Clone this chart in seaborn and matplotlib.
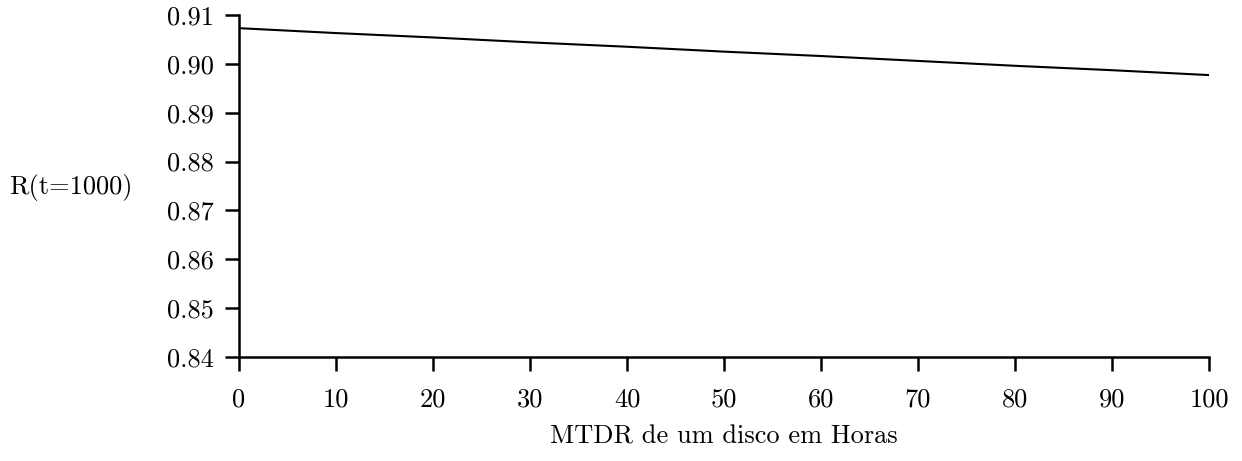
import matplotlib
matplotlib.use("Agg")
import matplotlib.pyplot as plt
import seaborn as sns
import pandas as pd

mtdr = [0, 10, 20, 30, 40, 50, 60, 70, 80, 90, 100]
reliability = [0.9073, 0.9063, 0.9054, 0.9044, 0.9035, 0.9025, 0.9016, 0.9006, 0.8996, 0.8987, 0.8977]
xticks = [0, 10, 20, 30, 40, 50, 60, 70, 80, 90, 100]
yticks = [0.84, 0.85, 0.86, 0.87, 0.88, 0.89, 0.90, 0.91]

sns.set_theme(style="ticks")
plt.rcParams['font.family'] = ['cmr10', 'DejaVu Serif']
plt.rcParams['text.color'] = 'black'
plt.rcParams['axes.unicode_minus'] = False

df = pd.DataFrame({"MTDR": mtdr, "R": reliability})

fig = plt.figure(figsize=(12.42, 4.61), dpi=100)
ax = fig.add_axes([0.1924, 0.2256, 0.7810, 0.7419])
sns.lineplot(data=df, x="MTDR", y="R", ax=ax, color="black", linewidth=1.5)

ax.set_xlim(0, 100)
ax.set_ylim(0.84, 0.91)
ax.set_xticks(xticks)
ax.set_xticklabels([str(v) for v in xticks])
ax.set_yticks(yticks)
ax.set_yticklabels([f"{v:.2f}" for v in yticks])
ax.tick_params(axis='both', direction='out', length=10, width=1.8, labelsize=19, colors='black')
ax.tick_params(axis='x', pad=12)
ax.tick_params(axis='y', pad=8)
for s in ['top', 'right']:
    ax.spines[s].set_visible(False)
for s in ['left', 'bottom']:
    ax.spines[s].set_linewidth(1.8)
    ax.spines[s].set_color('black')

ax.set_xlabel("")
ax.set_ylabel("")
fig.text(0.0572, 0.594, "R(t=1000)", fontsize=19, ha='center', va='center')
fig.text(0.583, 0.052, "MTDR de um disco em Horas", fontsize=19, ha='center', va='center')

fig.savefig("out.png", dpi=100)
